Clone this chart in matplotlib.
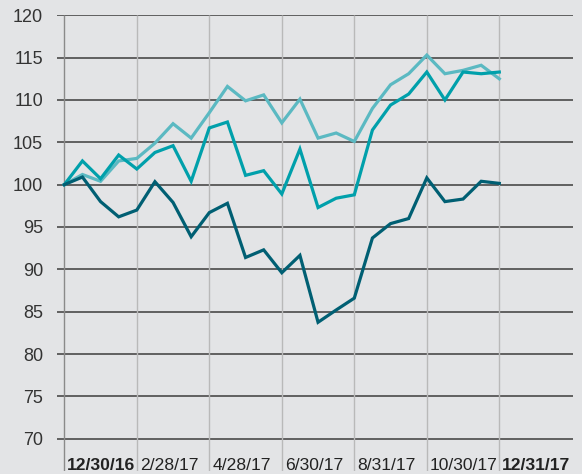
import matplotlib.pyplot as plt

# half-month points from 12/30/16 to 12/31/17
light = [100, 101.2, 100.4, 102.8, 103.1, 104.9, 107.2, 105.5, 108.5, 111.6,
         109.9, 110.6, 107.3, 110.1, 105.5, 106.1, 105.1, 109.0, 111.8, 113.1,
         115.3, 113.1, 113.5, 114.1, 112.5]
medium = [100, 102.8, 100.7, 103.5, 101.85, 103.8, 104.6, 100.4, 106.7, 107.4,
          101.1, 101.65, 98.9, 104.2, 97.3, 98.4, 98.8, 106.45, 109.4, 110.7,
          113.3, 110.0, 113.3, 113.1, 113.3]
dark = [100, 100.9, 98.0, 96.2, 97.0, 100.35, 97.9, 93.85, 96.7, 97.8,
        91.4, 92.3, 89.6, 91.65, 83.75, 85.2, 86.6, 93.7, 95.4, 96.0,
        100.8, 98.0, 98.3, 100.4, 100.15]

x_labels = ['12/30/16', '2/28/17', '4/28/17', '6/30/17', '8/31/17', '10/30/17', '12/31/17']
label_pos = [0, 4, 8, 12, 16, 20, 24]
y_ticks = [70, 75, 80, 85, 90, 95, 100, 105, 110, 115, 120]

bg = '#e3e4e6'
plt.rcParams['font.family'] = ['Liberation Sans', 'DejaVu Sans']

fig = plt.figure(figsize=(5.82, 4.74), dpi=100, facecolor=bg)
W, H = 582, 474
ax = fig.add_axes([57 / W, 1 - 471 / H, (573 - 57) / W, (471 - 15) / H])
ax.set_facecolor(bg)
for s in ax.spines.values():
    s.set_visible(False)

step = 18.125
x0 = 64.3
ax.set_xlim((57 - x0) / step, (573 - x0) / step)
ppv = 8.468  # pixels per unit
ax.set_ylim(120 - (471 - 15.3) / ppv, 120 + 0.3 / ppv)

xs = list(range(len(light)))

# grid
ax.hlines(y_ticks, ax.get_xlim()[0], ax.get_xlim()[1], color='#3c3c3c', lw=1.1, zorder=1)
ybot = ax.get_ylim()[0]
for i, p in enumerate(label_pos):
    ax.vlines(p, ybot, 120, color='#8a8a8a' if i == 0 else '#b9b9b9', lw=1.0, zorder=1)

ax.plot(xs, light, color='#5bb9c2', lw=2.3, zorder=3, solid_joinstyle='miter')
ax.plot(xs, medium, color='#00a0ab', lw=2.3, zorder=4, solid_joinstyle='miter')
ax.plot(xs, dark, color='#005f73', lw=2.3, zorder=5, solid_joinstyle='miter')

ax.set_xticks([])
ax.set_yticks(y_ticks)
ax.set_yticklabels([str(v) for v in y_ticks], fontsize=13, color='#333333')
ax.tick_params(axis='y', length=0, pad=10)

for i, (p, lab) in enumerate(zip(label_pos, x_labels)):
    bold = i in (0, len(x_labels) - 1)
    ax.annotate(lab, xy=(p, ybot), xycoords='data', xytext=(3, 1), textcoords='offset pixels',
                ha='left', va='baseline', fontsize=12.6, color='#222222',
                fontweight='bold' if bold else 'normal', annotation_clip=False)

fig.savefig('out.png', dpi=100, facecolor=bg)
